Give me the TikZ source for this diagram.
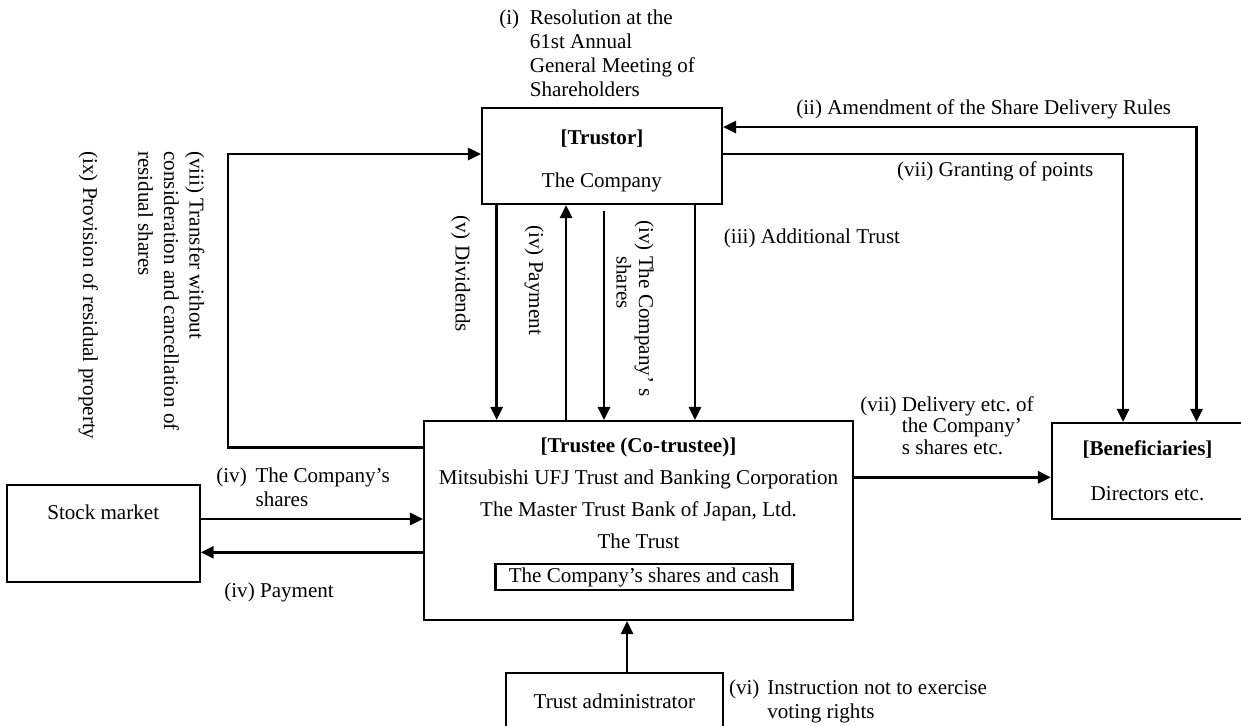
\documentclass[tikz,border=0pt]{standalone}
\usepackage{fontspec}
\setmainfont{Liberation Serif}
\usetikzlibrary{arrows.meta}

\tikzset{
  box/.style={draw, line width=1.2pt, inner sep=0pt, align=center},
  arr/.style={line width=1.5pt, -{Triangle[length=0.26cm,width=0.24cm]}},
  dblarr/.style={line width=1.5pt, {Triangle[length=0.26cm,width=0.24cm]}-{Triangle[length=0.26cm,width=0.24cm]}},
  lbl/.style={inner sep=0pt, anchor=base west},
  vlbl/.style={inner sep=0pt, anchor=base west, rotate=-90},
}

\begin{document}
\begin{tikzpicture}[x=0.02cm, y=-0.02cm, font=\fontsize{12}{13.7}\selectfont]
\useasboundingbox (0,0) rectangle (1241,725);

% boxes
\node[box, minimum width=4.8cm, minimum height=1.92cm] (trustor) at (602,156) {};
\node[inner sep=0pt, align=center, font=\fontsize{12}{24.5}\selectfont] (trustortext) at (602,160.5) {\textbf{[Trustor]}\\The Company};
\node[box, minimum width=8.58cm, minimum height=3.98cm] (trustee) at (638.5,520.5) {};
\node[inner sep=0pt, align=center, font=\fontsize{12}{18.2}\selectfont] (trusteetext) at (638.5,493) {\textbf{[Trustee (Co-trustee)]}\\Mitsubishi UFJ Trust and Banking Corporation\\The Master Trust Bank of Japan, Ltd.\\The Trust};
\node[box, minimum width=5.94cm, minimum height=0.53cm] (assets) at (644,577) {The Company’s shares and cash};
\node[box, minimum width=3.86cm, minimum height=1.94cm] (stock) at (103.2,533.5) {};
\node[inner sep=0pt] (stocktext) at (103.2,512) {Stock market};
\node[box, minimum width=3.82cm, minimum height=1.92cm, font=\fontsize{12}{25.5}\selectfont] (benef) at (1147.5,471) {\textbf{[Beneficiaries]}\\Directors etc.};
\node[box, minimum width=4.33cm, minimum height=1.12cm] (admin) at (614.4,701) {Trust administrator};

% labels
\node[lbl] (resol) at (499,24.3) {\begin{tabular}[t]{@{}l@{\hspace{6pt}}l@{}}(i) & Resolution at the\\ & 61st Annual\\ & General Meeting of\\ & Shareholders\end{tabular}};
\node[lbl] (amendlbl) at (796,114.3) {(ii) Amendment of the Share Delivery Rules};
\node[lbl] (grantlbl) at (896.8,176.7) {(vii) Granting of points};
\node[lbl] (addlbl) at (723.6,243.3) {(iii) Additional Trust};
\node[lbl, font=\fontsize{12}{12.3}\selectfont] (delivlbl) at (860,411) {\begin{tabular}[t]{@{}l@{\hspace{3pt}}l@{}}(vii) & Delivery etc.\ of\\ & the Company’\\ & s shares etc.\end{tabular}};
\node[lbl] (buylbl) at (216,482.7) {\begin{tabular}[t]{@{}l@{\hspace{5pt}}l@{}}(iv) & The Company’s\\ & shares\end{tabular}};
\node[lbl] (paylbl) at (224,597.7) {(iv) Payment};
\node[lbl] (instrlbl) at (728.7,694.3) {\begin{tabular}[t]{@{}l@{\hspace{4.5pt}}l@{}}(vi) & Instruction not to exercise\\ & voting rights\end{tabular}};

% rotated labels
\node[vlbl] (divlbl) at (455.7,215) {(v) Dividends};
\node[vlbl] (vpaylbl) at (529,225) {(iv) Payment};
\node[vlbl, font=\fontsize{12}{12.7}\selectfont] (vshrlbl) at (639,220) {\begin{tabular}[t]{@{}l@{\hspace{3pt}}l@{}}(iv) & The Company’ s\\ & shares\end{tabular}};
\node[vlbl, font=\fontsize{12}{14.6}\selectfont] (retlbl) at (189.7,151) {\begin{tabular}[t]{@{}l@{}}(viii) Transfer without\\consideration and cancellation of\\residual shares\end{tabular}};
\node[vlbl] (proplbl) at (83,151) {(ix) Provision of residual property};

% connector positions
\coordinate (xdiv) at (496.7,0);
\coordinate (xpay) at (566,0);
\coordinate (shrtop) at (604,210.7);
\coordinate (xadd) at (695,0);
\coordinate (loopx) at (228,447.7);
\coordinate (looptop) at (228,154);
\coordinate (amend) at (1196.5,127);
\coordinate (xgrant) at (1123,0);
\coordinate (deliv) at (0,477.3);
\coordinate (stkin) at (0,519);
\coordinate (stkout) at (0,552.3);
\coordinate (xadm) at (627,0);

% connectors
\draw[arr] (trustor.south -| xdiv) -- (trustee.north -| xdiv);
\draw[arr] (trustee.north -| xpay) -- (trustor.south -| xpay);
\draw[arr] (shrtop) -- (trustee.north -| shrtop);
\draw[arr] (trustor.south -| xadd) -- (trustee.north -| xadd);
\draw[arr] (trustee.west |- loopx) -- (loopx) -- (looptop) -- (trustor.west |- looptop);
\draw[arr] (trustor.east |- looptop) -| (benef.north -| xgrant);
\draw[dblarr] (trustor.east |- amend) -- (amend) -- (benef.north -| amend);
\draw[arr] (trustee.east |- deliv) -- (benef.west |- deliv);
\draw[arr] (stock.east |- stkin) -- (trustee.west |- stkin);
\draw[arr] (trustee.west |- stkout) -- (stock.east |- stkout);
\draw[arr] (admin.north -| xadm) -- (trustee.south -| xadm);
\end{tikzpicture}
\end{document}
